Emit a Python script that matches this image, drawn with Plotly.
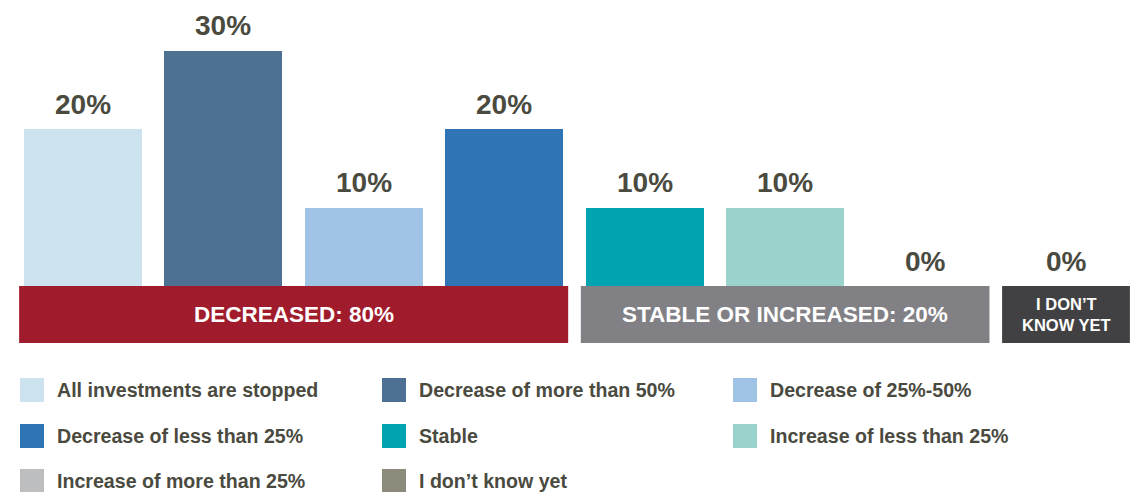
import plotly.graph_objects as go

# ---------------- data ----------------
categories = [
    "All investments are stopped",
    "Decrease of more than 50%",
    "Decrease of 25%-50%",
    "Decrease of less than 25%",
    "Stable",
    "Increase of less than 25%",
    "Increase of more than 25%",
    "I don’t know yet",
]
values = [20, 30, 10, 20, 10, 10, 0, 0]
value_labels = ["20%", "30%", "10%", "20%", "10%", "10%", "0%", "0%"]
bar_colors = ["#CCE2EF", "#4D7093", "#9FC3E4", "#2F74B5",
              "#00A3AF", "#9AD3CB", "#BDBEC0", "#8C8A7A"]

group_labels = ["DECREASED: 80%", "STABLE OR INCREASED: 20%", "I DON’T<br>KNOW YET"]
group_first = [0, 4, 7]
group_last = [3, 6, 7]
group_colors = ["#A01C2C", "#818185", "#414143"]

# ---------------- layout constants ----------------
OFF = 8                      # page body margin in the browser
W, H = 1145 - OFF, 492 - OFF  # figure size so that it fits the window
FONT = "Liberation Sans, Arial, Helvetica, sans-serif"
TXT = "#4A4A3F"
BAR_W = 0.84
PAD = 0.035

def py(p):
    """reference-window pixel (y) -> paper coordinate"""
    return 1 - (p - OFF) / H

def pxx(p):
    """reference-window pixel (x) -> paper coordinate"""
    return (p - OFF) / W

fig = go.Figure()
fig.add_trace(go.Bar(
    x=categories, y=values, marker=dict(color=bar_colors, line=dict(width=0)),
    width=BAR_W, showlegend=False, hoverinfo="x+y",
))

annotations = []
for c, v, lab in zip(categories, values, value_labels):
    annotations.append(dict(
        x=c, y=v, xref="x", yref="y", text=lab, showarrow=False,
        yanchor="middle", yshift=25,
        font=dict(family=FONT, size=28, color=TXT, weight="bold"),
    ))

shapes = []
box_top, box_bot = py(286), py(343)
for lab, f, l, col in zip(group_labels, group_first, group_last, group_colors):
    x0 = f - BAR_W / 2 - PAD
    x1 = l + BAR_W / 2 + PAD
    shapes.append(dict(type="rect", xref="x", yref="paper", x0=x0, x1=x1,
                       y0=box_bot, y1=box_top, fillcolor=col, line=dict(width=0),
                       layer="above"))
    multi = "<br>" in lab
    annotations.append(dict(
        x=(x0 + x1) / 2, y=(box_top + box_bot) / 2, xref="x", yref="paper",
        text=lab, showarrow=False, xanchor="center", yanchor="middle",
        font=dict(family=FONT, size=16.5 if multi else 22.5, color="white",
                  weight="bold"),
    ))

# manual legend (3 columns)
col_x = [20, 382, 733]
row_y = [390, 436, 481]
SQ = 24
for i, (name, col) in enumerate(zip(categories, bar_colors)):
    r, c = divmod(i, 3)
    shapes.append(dict(type="rect", xref="paper", yref="paper",
                       x0=pxx(col_x[c]), x1=pxx(col_x[c] + SQ),
                       y0=py(row_y[r] + SQ / 2), y1=py(row_y[r] - SQ / 2),
                       fillcolor=col, line=dict(width=0)))
    annotations.append(dict(
        x=pxx(col_x[c] + 35), y=py(row_y[r]), xref="paper", yref="paper",
        text=name, showarrow=False, xanchor="left", yanchor="middle",
        font=dict(family=FONT, size=19.6, color=TXT, weight="bold"),
    ))

# axis ranges chosen so category centres and baseline land where the reference has them
first_c, last_c = 83 - OFF, 1066 - OFF
unit = (last_c - first_c) / (len(categories) - 1)
yscale = 7.85  # px per percentage point
baseline = 286 - OFF

fig.update_layout(
    width=W, height=H,
    margin=dict(l=0, r=0, t=0, b=0),
    paper_bgcolor="white", plot_bgcolor="white",
    xaxis=dict(type="category", visible=False,
               range=[-first_c / unit, len(categories) - 1 + (W - last_c) / unit]),
    yaxis=dict(visible=False, range=[-(H - baseline) / yscale, baseline / yscale]),
    bargap=0,
    shapes=shapes,
    annotations=annotations,
    showlegend=False,
)

fig.write_html("out.html")
